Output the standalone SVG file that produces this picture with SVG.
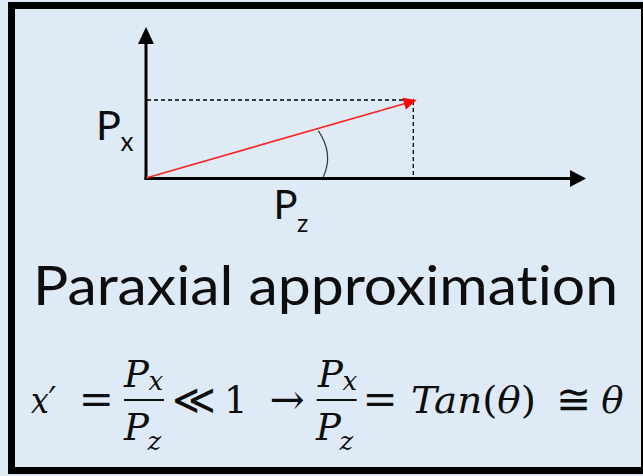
<svg xmlns="http://www.w3.org/2000/svg" width="643" height="476" viewBox="0 0 643 476">
<style>
.axis{stroke:#000;stroke-width:3;fill:none}
.dash{stroke:#000;stroke-width:1.3;stroke-dasharray:4 3;fill:none}
.lbl{font-family:Lato,"Open Sans",sans-serif;fill:#0d0d0d;font-variant-ligatures:none;font-feature-settings:"liga" 0,"dlig" 0}
.m{font-family:"DejaVu Serif","Liberation Serif",serif;fill:#0d0d0d;font-size:37px}
.op{font-size:42px}
.c{text-anchor:middle}
.i{font-style:italic}
.s{font-size:26px}
.bar{stroke:#0d0d0d;stroke-width:2}
</style>
<rect x="0" y="0" width="643" height="476" fill="#deebf7"/>
<rect x="11.5" y="5.5" width="633" height="465" fill="#deebf7" stroke="#000" stroke-width="7"/>
<g id="connectors">
  <line class="axis" x1="146" y1="179.5" x2="146" y2="42"/>
  <polygon points="146,27 138,44 154,44" fill="#000"/>
  <line class="axis" x1="144.5" y1="178.5" x2="572" y2="178.5"/>
  <polygon points="586,178.5 570,170 570,187" fill="#000"/>
  <line class="dash" x1="147" y1="100" x2="414" y2="100"/>
  <line class="dash" x1="413.3" y1="101" x2="413.3" y2="177"/>
  <line x1="146" y1="178" x2="406" y2="103.2" stroke="#ff2020" stroke-width="1.6"/>
  <polygon points="416.7,100 402.5,97.8 405.9,109.4" fill="#ff0000"/>
  <path d="M318.3,130.7 Q334,154 323.3,177" stroke="#333" stroke-width="1.2" fill="none"/>
</g>
<g id="label-px">
  <text class="lbl" x="96" y="140" font-size="41.5">P<tspan x="120.5" y="151" font-size="26">x</tspan></text>
</g>
<g id="label-pz">
  <text class="lbl" x="273.5" y="219" font-size="40">P<tspan x="297" y="232" font-size="25">z</tspan></text>
</g>
<g id="title">
  <text class="lbl" x="33" y="305" font-size="55" textLength="585" lengthAdjust="spacingAndGlyphs">Paraxial approximation</text>
</g>
<g id="equation">
  <text class="m i" x="31" y="412.5" textLength="25" lengthAdjust="spacingAndGlyphs">x′</text>
  <text class="m op c" x="96.3" y="414">=</text>
  <line class="bar" x1="124" y1="400" x2="164" y2="400"/>
  <text class="m i" x="124" y="386.7">P<tspan class="s" x="148.5" y="390">x</tspan></text>
  <text class="m i" x="124" y="440">P<tspan class="s" x="147.5" y="450">z</tspan></text>
  <text class="m op c" x="194.3" y="414">≪</text>
  <text class="m c" x="235.8" y="412.5">1</text>
  <text class="m op c" x="287" y="414">→</text>
  <line class="bar" x1="316.7" y1="400" x2="356.7" y2="400"/>
  <text class="m i" x="318" y="386.7">P<tspan class="s" x="342.5" y="390">x</tspan></text>
  <text class="m i" x="316" y="440">P<tspan class="s" x="339.5" y="450">z</tspan></text>
  <text class="m op c" x="380" y="414">=</text>
  <text class="m" x="411" y="412.5" textLength="125" lengthAdjust="spacingAndGlyphs"><tspan class="i">Tan</tspan>(<tspan class="i">θ</tspan>)</text>
  <text class="m op c" x="573.3" y="414">≅</text>
  <text class="m c i" x="612.5" y="412.5">θ</text>
</g>
</svg>
